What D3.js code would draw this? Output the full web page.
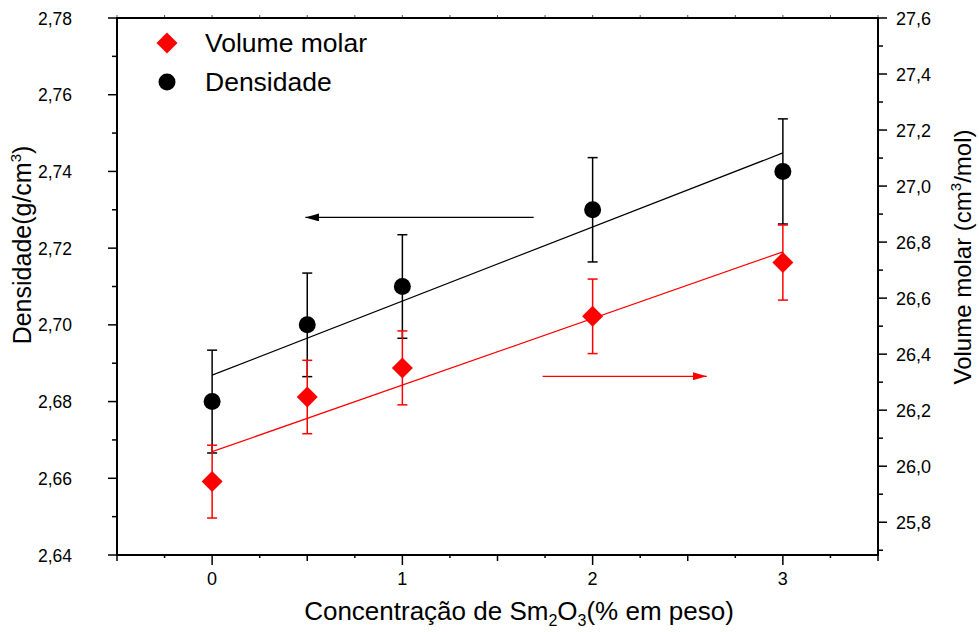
<!DOCTYPE html>
<html><head><meta charset="utf-8">
<script src="https://cdn.jsdelivr.net/npm/d3@7"></script>
<style>
body{margin:0;background:#fff}
svg{display:block}
text{font-family:"Liberation Sans",Arial,Helvetica,sans-serif;fill:#000}
</style>
</head><body>
<svg id="c" width="979" height="632"></svg>
<script>
// ---------- data ----------
const concentrations = [0, 0.5, 1, 2, 3];
const density = [2.680, 2.700, 2.710, 2.730, 2.740];
const densityErr = [0.0134, 0.0135, 0.0135, 0.0136, 0.0137];
const molarVolume = [25.945, 26.247, 26.351, 26.535, 26.727];
const molarVolumeErr = [0.130, 0.131, 0.132, 0.133, 0.134];
const xTickLabels = [0, 1, 2, 3];
const leftTickValues = [2.64, 2.66, 2.68, 2.70, 2.72, 2.74, 2.76, 2.78];
const rightTickValues = [25.8, 26.0, 26.2, 26.4, 26.6, 26.8, 27.0, 27.2, 27.4, 27.6];
const legendLabels = ["Volume molar", "Densidade"];
// arrows (data units): [x start, x end, y]
const densityArrow = [1.69, 0.49, 2.728];
const volumeArrow = [1.737, 2.60, 26.321];

// ---------- layout ----------
const W = 979, H = 632;
const m = {left: 117, right: 101, top: 18, bottom: 77};
const svg = d3.select("#c");
const x = d3.scaleLinear().domain([-0.5, 3.5]).range([m.left, W - m.right]);
const yL = d3.scaleLinear().domain([2.64, 2.78]).range([H - m.bottom, m.top]);
const yR = d3.scaleLinear().domain([25.683, 27.6]).range([H - m.bottom, m.top]);
const commaFmt = f => v => d3.format(f)(v).replace(".", ",");

function linfit(xs, ys) {
  const n = xs.length, mx = d3.mean(xs), my = d3.mean(ys);
  let sxy = 0, sxx = 0;
  for (let i = 0; i < n; i++) { sxy += (xs[i]-mx)*(ys[i]-my); sxx += (xs[i]-mx)**2; }
  const b = sxy / sxx, a = my - b*mx;
  return v => a + b*v;
}

// ---------- axes ----------
const xMinor = d3.range(-0.5, 3.5001, 0.25);
const bottomY = H - m.bottom;
svg.append("g").selectAll("line").data(xMinor).join("line")
  .attr("x1", d => x(d)).attr("x2", d => x(d))
  .attr("y1", bottomY)
  .attr("y2", d => bottomY + (Number.isInteger(d) ? 10 : (Math.abs(d*2 - Math.round(d*2)) < 1e-9 ? 6 : 3)))
  .attr("stroke", "#000").attr("stroke-width", 1.5);
svg.append("g").selectAll("line").data(xMinor).join("line")
  .attr("x1", d => x(d)).attr("x2", d => x(d))
  .attr("y1", m.top).attr("y2", m.top - 3)
  .attr("stroke", "#555").attr("stroke-width", 1);
svg.append("g").selectAll("text").data(xTickLabels).join("text")
  .attr("x", d => x(d)).attr("y", bottomY + 30)
  .attr("text-anchor", "middle").attr("font-size", 18)
  .text(d => d);

// left axis
const leftMinor = d3.range(0, 15).map(i => 2.64 + i*0.01);
svg.append("g").selectAll("line").data(leftMinor).join("line")
  .attr("x1", m.left).attr("x2", (d, i) => m.left - (i % 2 === 0 ? 9 : 5))
  .attr("y1", d => yL(d)).attr("y2", d => yL(d))
  .attr("stroke", "#000").attr("stroke-width", 1.5);
svg.append("g").selectAll("text").data(leftTickValues).join("text")
  .attr("x", m.left - 45).attr("y", d => yL(d) + 6.5)
  .attr("text-anchor", "end").attr("font-size", 17.5)
  .text(commaFmt(".2f"));

// right axis
const rightMinor = d3.range(0, 20).map(i => 25.7 + i*0.1).filter(v => v >= 25.683 && v <= 27.6001);
svg.append("g").selectAll("line").data(rightMinor).join("line")
  .attr("x1", W - m.right).attr("x2", d => W - m.right + (Math.abs(d*5 - Math.round(d*5)) < 1e-6 ? 9 : 5))
  .attr("y1", d => yR(d)).attr("y2", d => yR(d))
  .attr("stroke", "#000").attr("stroke-width", 1.5);
svg.append("g").selectAll("text").data(rightTickValues).join("text")
  .attr("x", W - m.right + 18).attr("y", d => yR(d) + 6.5)
  .attr("text-anchor", "start").attr("font-size", 18)
  .text(commaFmt(".1f"));

// frame
svg.append("rect").attr("x", m.left).attr("y", m.top)
  .attr("width", W - m.left - m.right).attr("height", H - m.top - m.bottom)
  .attr("fill", "none").attr("stroke", "#000").attr("stroke-width", 2);

// ---------- fit lines ----------
const fD = linfit(concentrations, density);
const fV = linfit(concentrations, molarVolume);
const x0 = d3.min(concentrations), x1 = d3.max(concentrations);
svg.append("line").attr("x1", x(x0)).attr("x2", x(x1))
  .attr("y1", yL(fD(x0))).attr("y2", yL(fD(x1)))
  .attr("stroke", "#000").attr("stroke-width", 1.2);
svg.append("line").attr("x1", x(x0)).attr("x2", x(x1))
  .attr("y1", yR(fV(x0))).attr("y2", yR(fV(x1)))
  .attr("stroke", "#ff0000").attr("stroke-width", 1.2);

// ---------- error bars ----------
function errBars(vals, errs, y, color) {
  const g = svg.append("g").attr("stroke", color).attr("stroke-width", 1.5);
  concentrations.forEach((c, i) => {
    const xp = x(c), yt = y(vals[i] + errs[i]), yb = y(vals[i] - errs[i]);
    g.append("line").attr("x1", xp).attr("x2", xp).attr("y1", yt).attr("y2", yb);
    g.append("line").attr("x1", xp - 5).attr("x2", xp + 5).attr("y1", yt).attr("y2", yt);
    g.append("line").attr("x1", xp - 5).attr("x2", xp + 5).attr("y1", yb).attr("y2", yb);
  });
}
errBars(density, densityErr, yL, "#000");
errBars(molarVolume, molarVolumeErr, yR, "#ff0000");

// ---------- markers ----------
const diamond = "M0,-10.5L10.5,0L0,10.5L-10.5,0Z";
svg.append("g").selectAll("circle").data(concentrations).join("circle")
  .attr("cx", d => x(d)).attr("cy", (d, i) => yL(density[i])).attr("r", 8.5)
  .attr("fill", "#000");
svg.append("g").selectAll("path").data(concentrations).join("path")
  .attr("d", diamond)
  .attr("transform", (d, i) => `translate(${x(d)},${yR(molarVolume[i])})`)
  .attr("fill", "#ff0000");

// ---------- arrows ----------
const defs = svg.append("defs");
function marker(id, color) {
  defs.append("marker").attr("id", id).attr("viewBox", "0 0 14 8")
    .attr("refX", 14).attr("refY", 4).attr("markerWidth", 14).attr("markerHeight", 8)
    .attr("markerUnits", "userSpaceOnUse").attr("orient", "auto")
    .append("path").attr("d", "M0,0L14,4L0,8Z").attr("fill", color);
}
marker("ab", "#000"); marker("ar", "#ff0000");
svg.append("line").attr("x1", x(densityArrow[0])).attr("x2", x(densityArrow[1]))
  .attr("y1", yL(densityArrow[2])).attr("y2", yL(densityArrow[2]))
  .attr("stroke", "#000").attr("stroke-width", 1.2).attr("marker-end", "url(#ab)");
svg.append("line").attr("x1", x(volumeArrow[0])).attr("x2", x(volumeArrow[1]))
  .attr("y1", yR(volumeArrow[2])).attr("y2", yR(volumeArrow[2]))
  .attr("stroke", "#ff0000").attr("stroke-width", 1.2).attr("marker-end", "url(#ar)");

// ---------- legend ----------
const lg = svg.append("g");
lg.append("path").attr("d", diamond).attr("transform", "translate(167,43)").attr("fill", "#ff0000");
lg.append("circle").attr("cx", 167).attr("cy", 82).attr("r", 8.5).attr("fill", "#000");
lg.selectAll("text").data(legendLabels).join("text")
  .attr("x", 205).attr("y", (d, i) => 52 + i*39)
  .attr("font-size", 26.5).text(d => d);

// ---------- axis titles ----------
const bt = svg.append("text").attr("x", 519).attr("y", 620)
  .attr("text-anchor", "middle").attr("font-size", 26);
bt.append("tspan").text("Concentração de Sm");
bt.append("tspan").attr("font-size", 16).attr("dy", 6).text("2");
bt.append("tspan").attr("dy", -6).text("O");
bt.append("tspan").attr("font-size", 16).attr("dy", 6).text("3");
bt.append("tspan").attr("dy", -6).text("(% em peso)");

const lt = svg.append("text").attr("transform", "translate(31,245) rotate(-90)")
  .attr("text-anchor", "middle").attr("font-size", 25);
lt.append("tspan").text("Densidade(g/cm");
lt.append("tspan").attr("font-size", 15).attr("dy", -10).text("3");
lt.append("tspan").attr("dy", 10).text(")");

const rt = svg.append("text").attr("transform", "translate(971,257) rotate(-90)")
  .attr("text-anchor", "middle").attr("font-size", 24);
rt.append("tspan").text("Volume molar (cm");
rt.append("tspan").attr("font-size", 15).attr("dy", -10).text("3");
rt.append("tspan").attr("dy", 10).text("/mol)");
</script>
</body></html>
